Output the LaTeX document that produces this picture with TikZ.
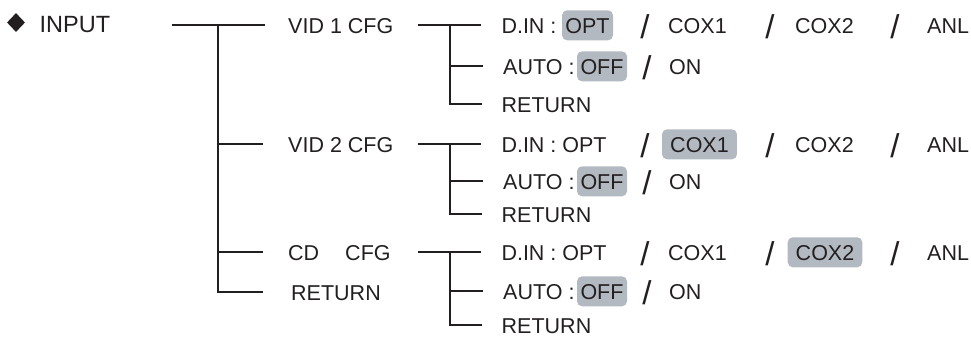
\documentclass[tikz,border=0pt]{standalone}
\usepackage{fontspec}
\setmainfont{Liberation Sans}
\usetikzlibrary{shapes.geometric}
\definecolor{ink}{RGB}{35,31,32}
\definecolor{hlgray}{RGB}{179,185,193}
\tikzset{
  ln/.style={draw=ink, line width=1.8pt},
  txt/.style={inner sep=0pt, anchor=base west, text=ink, font=\fontsize{21.5}{25}\selectfont, text height=15.4pt, text depth=0pt},
  hl/.style={inner ysep=7.3pt, inner xsep=#1, anchor=center, fill=hlgray, rounded corners=5pt, text=ink, font=\fontsize{21.5}{25}\selectfont, text height=15.4pt, text depth=0pt},
  sl/.style={inner sep=0pt, anchor=base, text=ink, font=\fontsize{33}{36}\selectfont},
}
\begin{document}
\begin{tikzpicture}[x=1pt,y=-1pt]
\useasboundingbox (0,0) rectangle (971,338);
% title
\node[diamond, fill=ink, inner sep=0pt, minimum width=18pt, minimum height=19pt] (dia) at (16,22.5) {};
\node[txt, font=\fontsize{23.5}{27}\selectfont] (input) at (39.5,32) {INPUT};
% level 1
\node[txt] (vid1) at (288,33) {VID 1 CFG};
\node[txt] (vid2) at (288,152) {VID 2 CFG};
\node[txt] (cd) at (288,260) {CD\hspace{26pt}CFG};
\node[txt] (ret) at (291,300) {RETURN};
\coordinate (m0) at (172,25.3);
\coordinate (ms) at (218,25.3);
\draw[ln] (m0) -- ([xshift=-23pt]vid1.west);
\draw[ln] (ms) |- ([xshift=-28pt]ret.west);
\draw[ln] (ms |- vid2.west) -- ([xshift=-25pt]vid2.west);
\draw[ln] (ms |- cd.west) -- ([xshift=-25pt]cd.west);
% ---------- VID 1 ----------
\node[txt] (din1) at (501.3,33) {D.IN :};
\node[hl=3.4pt] (opt1) at (587.5,25.3) {OPT};
\node[sl] (sa1) at (645,38) {/};
\node[txt] (cxa1) at (668,33) {COX1};
\node[sl] (sb1) at (770,38) {/};
\node[txt] (cxb1) at (795,33) {COX2};
\node[sl] (sc1) at (895,38) {/};
\node[txt] (anl1) at (927,33) {ANL};
\node[txt] (auto1) at (503,74) {AUTO :};
\node[hl=3.5pt] (off1) at (602,66.3) {OFF};
\node[sl] (sd1) at (647,79) {/};
\node[txt] (on1) at (669,74) {ON};
\node[txt] (ret1) at (501.5,112) {RETURN};
\coordinate (a1) at (418,25.3);
\coordinate (b1) at (450,25.3);
\draw[ln] (a1) -- ([xshift=-20pt]din1.west);
\draw[ln] (b1) |- ([xshift=-20pt]ret1.west);
\draw[ln] (b1 |- auto1.west) -- ([xshift=-20pt]auto1.west);
% ---------- VID 2 ----------
\node[txt] (din2) at (501.3,152) {D.IN : OPT};
\node[sl] (sa2) at (645,157) {/};
\node[hl=8.2pt] (cxa2) at (699.5,144.3) {COX1};
\node[sl] (sb2) at (770,157) {/};
\node[txt] (cxb2) at (795,152) {COX2};
\node[sl] (sc2) at (895,157) {/};
\node[txt] (anl2) at (927,152) {ANL};
\node[txt] (auto2) at (503,189) {AUTO :};
\node[hl=3.5pt] (off2) at (602,181.3) {OFF};
\node[sl] (sd2) at (647,194) {/};
\node[txt] (on2) at (669,189) {ON};
\node[txt] (ret2) at (501.5,222) {RETURN};
\coordinate (a2) at (418,144.3);
\coordinate (b2) at (450,144.3);
\draw[ln] (a2) -- ([xshift=-20pt]din2.west);
\draw[ln] (b2) |- ([xshift=-20pt]ret2.west);
\draw[ln] (b2 |- auto2.west) -- ([xshift=-20pt]auto2.west);
% ---------- CD ----------
\node[txt] (din3) at (501.3,260) {D.IN : OPT};
\node[sl] (sa3) at (645,265) {/};
\node[txt] (cxa3) at (668,260) {COX1};
\node[sl] (sb3) at (770,265) {/};
\node[hl=8pt] (cxb3) at (825,252.3) {COX2};
\node[sl] (sc3) at (895,265) {/};
\node[txt] (anl3) at (927,260) {ANL};
\node[txt] (auto3) at (503,299) {AUTO :};
\node[hl=3.5pt] (off3) at (602,291.3) {OFF};
\node[sl] (sd3) at (647,304) {/};
\node[txt] (on3) at (669,299) {ON};
\node[txt] (ret3) at (501.5,333) {RETURN};
\coordinate (a3) at (418,252.3);
\coordinate (b3) at (450,252.3);
\draw[ln] (a3) -- ([xshift=-20pt]din3.west);
\draw[ln] (b3) |- ([xshift=-20pt]ret3.west);
\draw[ln] (b3 |- auto3.west) -- ([xshift=-20pt]auto3.west);
\end{tikzpicture}
\end{document}
